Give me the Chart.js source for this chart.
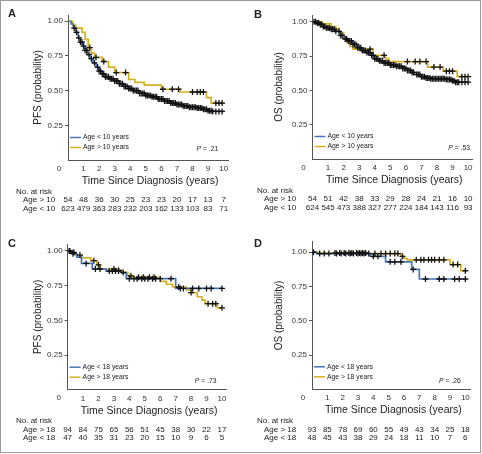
<!DOCTYPE html>
<html>
<head>
<meta charset="utf-8">
<script src="https://cdn.jsdelivr.net/npm/chart.js"></script>
<style>
  body { margin: 0; background: #fff; }
  .frame { position: absolute; left: 0; top: 0; width: 481px; height: 453px; border: 1px solid #999; box-sizing: border-box; }
  .panel { position: absolute; width: 241px; height: 227px; }
</style>
</head>
<body>
<div class="frame"></div>
<div class="panel" style="left:0;top:0"><canvas id="chartA"></canvas></div>
<div class="panel" style="left:241px;top:0"><canvas id="chartB"></canvas></div>
<div class="panel" style="left:0;top:225px"><canvas id="chartC"></canvas></div>
<div class="panel" style="left:241px;top:225px"><canvas id="chartD"></canvas></div>

<script>
// ---- data ----
const years = [0, 1, 2, 3, 4, 5, 6, 7, 8, 9, 10];

// A: PFS, age cut 10
const aBlueT = [0, 0.2, 0.35, 0.5, 0.65, 0.8, 0.95, 1.1, 1.25, 1.4, 1.6, 1.8, 2.0, 2.2, 2.4, 2.7, 3.0, 3.3, 3.6, 3.9, 4.2, 4.6, 5.0, 5.4, 5.8, 6.2, 6.6, 7.0, 7.4, 7.8, 8.3, 8.7, 9.0, 9.3, 10];
const aBlueS = [1, 0.98, 0.95, 0.92, 0.88, 0.85, 0.82, 0.79, 0.76, 0.73, 0.70, 0.67, 0.64, 0.62, 0.60, 0.585, 0.57, 0.55, 0.53, 0.515, 0.50, 0.48, 0.465, 0.455, 0.44, 0.425, 0.41, 0.40, 0.39, 0.38, 0.375, 0.365, 0.355, 0.35, 0.35];
const aGoldT = [0, 0.3, 0.5, 0.9, 1.1, 1.3, 1.5, 1.7, 2.2, 2.6, 3.0, 3.9, 4.3, 4.9, 6.0, 7.2, 8.9, 9.2, 10];
const aGoldS = [1, 0.97, 0.95, 0.92, 0.87, 0.81, 0.77, 0.74, 0.71, 0.67, 0.63, 0.58, 0.56, 0.54, 0.51, 0.49, 0.45, 0.41, 0.41];
const aBlueCens = [0.4, 0.55, 0.7, 0.8, 0.9, 1.0, 1.1, 1.2, 1.35, 1.5, 1.7, 1.9, 2.0, 2.1, 2.2, 2.3, 2.4, 2.5, 2.6, 2.7, 2.8, 2.9, 3.0, 3.1, 3.2, 3.3, 3.4, 3.5, 3.6, 3.7, 3.8, 3.9, 4.0, 4.1, 4.2, 4.3, 4.4, 4.5, 4.6, 4.7, 4.8, 4.9, 5.0, 5.1, 5.2, 5.3, 5.4, 5.5, 5.6, 5.7, 5.8, 5.9, 6.0, 6.1, 6.2, 6.3, 6.4, 6.5, 6.6, 6.7, 6.8, 6.9, 7.0, 7.1, 7.2, 7.3, 7.4, 7.5, 7.6, 7.7, 7.8, 7.9, 8.0, 8.1, 8.2, 8.3, 8.4, 8.5, 8.6, 8.7, 8.8, 8.9, 9.0, 9.1, 9.2, 9.3, 9.5, 9.7, 9.9];
const aGoldCens = [1.4, 1.8, 2.3, 3.1, 3.7, 6.1, 6.7, 7.1, 8.0, 8.3, 8.5, 8.7, 9.5, 9.7, 9.9];
const aRiskOld = [54, 48, 36, 30, 25, 23, 23, 20, 17, 13, 7];
const aRiskYoung = [623, 479, 363, 283, 232, 203, 162, 133, 103, 83, 71];

// B: OS, age cut 10
const bBlueT = [0, 0.3, 0.5, 0.7, 0.9, 1.2, 1.5, 1.8, 2.0, 2.3, 2.6, 2.9, 3.2, 3.5, 3.8, 4.0, 4.3, 4.6, 5.0, 5.4, 5.8, 6.1, 6.4, 6.7, 7.0, 7.3, 7.6, 8.6, 9.0, 9.2, 10];
const bBlueS = [1, 0.99, 0.98, 0.965, 0.955, 0.945, 0.93, 0.90, 0.875, 0.86, 0.835, 0.81, 0.79, 0.775, 0.755, 0.73, 0.715, 0.70, 0.685, 0.675, 0.66, 0.645, 0.63, 0.615, 0.60, 0.59, 0.585, 0.58, 0.57, 0.56, 0.56];
const bGoldT = [0, 0.6, 1.2, 1.5, 1.7, 2.0, 2.2, 2.4, 2.6, 3.9, 4.7, 4.9, 7.4, 8.4, 9.3, 10];
const bGoldS = [1, 0.985, 0.965, 0.95, 0.92, 0.88, 0.85, 0.82, 0.80, 0.755, 0.73, 0.71, 0.67, 0.64, 0.60, 0.60];
const bBlueCens = [0.1, 0.2, 0.3, 0.4, 0.5, 0.6, 0.7, 0.8, 0.9, 1.0, 1.1, 1.2, 1.3, 1.4, 1.5, 1.7, 1.8, 1.9, 2.1, 2.2, 2.3, 2.4, 2.5, 2.6, 2.7, 2.8, 2.9, 3.0, 3.1, 3.2, 3.3, 3.4, 3.5, 3.6, 3.7, 3.8, 3.9, 4.0, 4.1, 4.2, 4.3, 4.4, 4.5, 4.6, 4.7, 4.8, 4.9, 5.0, 5.1, 5.2, 5.3, 5.4, 5.5, 5.6, 5.7, 5.8, 5.9, 6.0, 6.1, 6.2, 6.3, 6.4, 6.5, 6.7, 6.8, 6.9, 7.0, 7.1, 7.2, 7.3, 7.4, 7.5, 7.6, 7.7, 7.8, 7.9, 8.0, 8.1, 8.2, 8.3, 8.4, 8.5, 8.6, 8.7, 8.8, 8.9, 9.0, 9.1, 9.2, 9.3, 9.4, 9.6, 9.8, 10];
const bGoldCens = [3.7, 4.6, 6.1, 6.6, 6.9, 7.3, 7.8, 8.2, 8.6, 8.8, 9.0, 9.6, 9.8, 10];
const bRiskOld = [54, 51, 42, 38, 33, 29, 28, 24, 21, 16, 10];
const bRiskYoung = [624, 545, 473, 388, 327, 277, 224, 184, 143, 116, 93];

// C: PFS, age cut 18
const cBlueT = [0, 0.3, 0.6, 0.9, 1.6, 2.5, 3.5, 3.8, 7.0, 10];
const cBlueS = [1, 0.98, 0.955, 0.91, 0.87, 0.855, 0.84, 0.80, 0.73, 0.73];
const cGoldT = [0, 0.2, 0.5, 0.9, 1.5, 1.9, 2.1, 3.2, 3.5, 3.9, 4.2, 6.0, 6.4, 6.8, 7.7, 8.0, 8.4, 8.7, 8.9, 9.7, 10];
const cGoldS = [1, 0.99, 0.97, 0.95, 0.93, 0.90, 0.87, 0.86, 0.845, 0.82, 0.81, 0.78, 0.76, 0.74, 0.72, 0.70, 0.67, 0.645, 0.62, 0.59, 0.59];
const cBlueCens = [0.15, 0.35, 1.2, 1.8, 2.1, 2.7, 2.9, 3.1, 3.3, 4.0, 4.3, 4.5, 4.8, 5.0, 5.2, 5.5, 5.7, 6.0, 6.7, 7.3, 7.5, 8.1, 8.5, 9.0, 9.3, 10];
const cGoldCens = [0.1, 0.4, 0.8, 1.7, 2.0, 3.0, 3.3, 3.6, 4.1, 4.6, 4.9, 5.3, 5.6, 7.2, 8.0, 9.1, 9.4, 9.6, 10];
const cRiskOld = [94, 84, 75, 65, 56, 51, 45, 38, 30, 22, 17];
const cRiskYoung = [47, 40, 35, 31, 23, 20, 15, 10, 9, 6, 5];

// D: OS, age cut 18
const dBlueT = [0, 0.3, 3.8, 4.8, 6.5, 7.0, 10];
const dBlueS = [1, 0.99, 0.97, 0.93, 0.875, 0.805, 0.805];
const dGoldT = [0, 0.4, 3.7, 5.8, 6.0, 6.2, 9.0, 9.7, 10];
const dGoldS = [1, 0.995, 0.99, 0.97, 0.955, 0.945, 0.91, 0.865, 0.865];
const dBlueCens = [0.5, 0.8, 1.1, 1.6, 1.9, 2.2, 2.5, 2.7, 3.0, 3.2, 3.4, 4.0, 4.3, 5.1, 5.4, 5.8, 6.6, 7.4, 8.3, 8.6, 9.3, 9.6, 10];
const dGoldCens = [0.1, 1.5, 1.8, 2.1, 2.4, 2.6, 2.9, 3.1, 3.3, 3.5, 3.7, 4.1, 4.5, 4.8, 5.1, 5.4, 5.6, 5.9, 6.8, 7.1, 7.3, 7.6, 7.8, 8.0, 8.3, 8.6, 9.2, 9.5, 10];
const dRiskOld = [93, 85, 78, 69, 60, 55, 49, 43, 34, 25, 18];
const dRiskYoung = [48, 45, 43, 38, 29, 24, 18, 11, 10, 7, 6];

const yTicks = [0.25, 0.5, 0.75, 1.0];

// ---- drawing ----
const BLUE = '#4676b4';
const GOLD = '#d6b023';
const NARROW = "'Liberation Sans Narrow', 'Liberation Sans', Arial, sans-serif";
Chart.defaults.font.family = NARROW;
Chart.defaults.color = '#333';

function stepAt(ts, ss, t) {
  let v = ss[0];
  for (let i = 0; i < ts.length; i++) if (ts[i] <= t) v = ss[i];
  return v;
}

const kmText = {
  id: 'kmText',
  afterDraw(chart, args, o) {
    const {ctx, chartArea: a, scales: {x}} = chart;
    ctx.save();
    ctx.fillStyle = '#222';
    ctx.textBaseline = 'middle';

    ctx.font = 'bold 11px "Liberation Sans", Arial, sans-serif';
    ctx.textAlign = 'left';
    ctx.fillText(o.letter, o.letterX, o.letterY);

    ctx.font = '8px ' + NARROW;
    ctx.textAlign = 'center';
    ctx.fillStyle = '#333';
    ctx.fillText('0', a.left - 9, a.bottom + 8.5);

    // y title
    ctx.fillStyle = '#222';
    ctx.font = '10px ' + NARROW;
    ctx.save();
    ctx.translate(38, (a.top + a.bottom) / 2);
    ctx.rotate(-Math.PI / 2);
    ctx.fillText(o.yTitle, 0, 0);
    ctx.restore();

    // x title
    ctx.font = '10.5px ' + NARROW;
    ctx.fillText('Time Since Diagnosis (years)', (a.left + a.right) / 2 + 2, a.bottom + 21);

    // legend
    ctx.lineWidth = 1.5;
    [[BLUE, o.labels[0], -22.5], [GOLD, o.labels[1], -12.5]].forEach(([c, t, dy]) => {
      ctx.strokeStyle = c;
      ctx.beginPath();
      ctx.moveTo(a.left + 2, a.bottom + dy);
      ctx.lineTo(a.left + 13, a.bottom + dy);
      ctx.stroke();
      ctx.font = '6.8px ' + NARROW;
      ctx.textAlign = 'left';
      ctx.fillText(t, a.left + 15, a.bottom + dy);
    });

    // P value
    ctx.textAlign = 'right';
    ctx.font = '6.8px ' + NARROW;
    const rest = ' = ' + o.p;
    const rw = ctx.measureText(rest).width;
    ctx.fillText(rest, a.right - o.pRight, a.bottom + o.pDy);
    ctx.font = 'italic 6.8px ' + NARROW;
    ctx.fillText('P', a.right - o.pRight - rw, a.bottom + o.pDy);

    // number at risk
    ctx.font = '8px ' + NARROW;
    ctx.textAlign = 'left';
    ctx.fillText('No. at risk', 16, a.bottom + 31.5);
    ctx.fillText(o.rowLabels[0], 23, a.bottom + 40);
    ctx.fillText(o.rowLabels[1], 23, a.bottom + 48.5);
    ctx.textAlign = 'center';
    years.forEach((yr, i) => {
      const px = x.getPixelForValue(yr);
      ctx.fillText(String(o.risk[0][i]), px, a.bottom + 40);
      ctx.fillText(String(o.risk[1][i]), px, a.bottom + 48.5);
    });
    ctx.restore();
  }
};

function makePanel(id, p) {
  const curve = (ts, ss) => ts.map((t, i) => ({x: t, y: ss[i]}));
  const marks = (cens, ts, ss) => cens.map(t => ({x: t, y: stepAt(ts, ss, t)}));
  new Chart(document.getElementById(id), {
    type: 'line',
    data: {
      datasets: [
        {type: 'scatter', data: marks(p.blueCens, p.blueT, p.blueS), pointStyle: 'cross', pointRadius: 3, borderColor: '#111', borderWidth: 1.3, order: 0},
        {type: 'scatter', data: marks(p.goldCens, p.goldT, p.goldS), pointStyle: 'cross', pointRadius: 3, borderColor: '#111', borderWidth: 1.3, order: 0},
        {data: curve(p.blueT, p.blueS), borderColor: BLUE, borderWidth: 1.7, stepped: true, pointRadius: 0, order: 1},
        {data: curve(p.goldT, p.goldS), borderColor: GOLD, borderWidth: 1.7, stepped: true, pointRadius: 0, order: 2}
      ]
    },
    options: {
      responsive: true,
      maintainAspectRatio: false,
      animation: false,
      events: [],
      layout: {padding: {left: 0, top: p.top, right: p.right, bottom: p.bottom}},
      plugins: {
        legend: {display: false},
        tooltip: {enabled: false},
        kmText: p.text
      },
      scales: {
        x: {
          type: 'linear', min: 0, max: p.xMax,
          afterBuildTicks: s => { s.ticks = years.slice(1).map(v => ({value: v})); },
          afterFit: s => { s.height = 12; },
          grid: {display: false, drawTicks: false},
          border: {color: '#555', width: 1},
          ticks: {font: {size: 8}, color: '#333', padding: 4, maxRotation: 0, autoSkip: false}
        },
        y: {
          min: 0, max: p.yMax,
          afterBuildTicks: s => { s.ticks = yTicks.map(v => ({value: v})); },
          afterFit: s => { s.width = p.left; },
          grid: {display: true, drawOnChartArea: false, drawTicks: true, tickLength: 3, color: '#555'},
          border: {color: '#555', width: 1},
          ticks: {font: {size: 8}, color: '#333', padding: 2, callback: v => v.toFixed(2)}
        }
      }
    },
    plugins: [kmText]
  });
}

makePanel('chartA', {
  blueT: aBlueT, blueS: aBlueS, goldT: aGoldT, goldS: aGoldS, blueCens: aBlueCens, goldCens: aGoldCens,
  left: 68, top: 15, right: 12.7, bottom: 55, xMax: 10.3, yMax: 1.045,
  text: {letter: 'A', letterX: 8, letterY: 14, yTitle: 'PFS (probability)', labels: ['Age < 10 years', 'Age > 10 years'],
         p: '.21', pRight: 10, pDy: -11, rowLabels: ['Age > 10', 'Age < 10'], risk: [aRiskOld, aRiskYoung]}
});
makePanel('chartB', {
  blueT: bBlueT, blueS: bBlueS, goldT: bGoldT, goldS: bGoldS, blueCens: bBlueCens, goldCens: bGoldCens,
  left: 71.5, top: 15, right: 10, bottom: 56, xMax: 10.25, yMax: 1.049,
  text: {letter: 'B', letterX: 13, letterY: 15, yTitle: 'OS (probability)', labels: ['Age < 10 years', 'Age > 10 years'],
         p: '.53', pRight: 2, pDy: -11, rowLabels: ['Age > 10', 'Age < 10'], risk: [bRiskOld, bRiskYoung]}
});
makePanel('chartC', {
  blueT: cBlueT, blueS: cBlueS, goldT: cGoldT, goldS: cGoldS, blueCens: cBlueCens, goldCens: cGoldCens,
  left: 67.6, top: 19, right: 14.4, bottom: 50.3, xMax: 10.3, yMax: 1.05,
  text: {letter: 'C', letterX: 8, letterY: 19, yTitle: 'PFS (probability)', labels: ['Age < 18 years', 'Age > 18 years'],
         p: '.73', pRight: 10, pDy: -9, rowLabels: ['Age > 18', 'Age < 18'], risk: [cRiskOld, cRiskYoung]}
});
makePanel('chartD', {
  blueT: dBlueT, blueS: dBlueS, goldT: dGoldT, goldS: dGoldS, blueCens: dBlueCens, goldCens: dGoldCens,
  left: 71, top: 16.7, right: 11.3, bottom: 50.7, xMax: 10.35, yMax: 1.077,
  text: {letter: 'D', letterX: 13, letterY: 19, yTitle: 'OS (probability)', labels: ['Age < 18 years', 'Age > 18 years'],
         p: '.26', pRight: 10, pDy: -8, rowLabels: ['Age > 18', 'Age < 18'], risk: [dRiskOld, dRiskYoung]}
});
</script>
</body>
</html>
